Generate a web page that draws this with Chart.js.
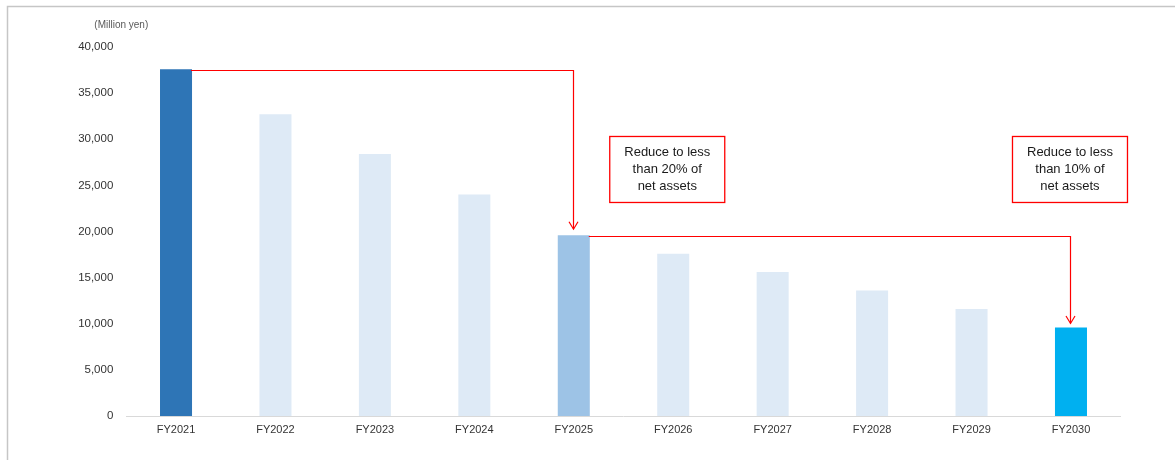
<!DOCTYPE html>
<html>
<head>
<meta charset="utf-8">
<title>Interest-bearing debt plan</title>
<script src="https://cdn.jsdelivr.net/npm/chart.js@4.4.1/dist/chart.umd.min.js"></script>
<style>
  html, body { margin: 0; padding: 0; background: #ffffff; }
  #wrap { width: 1175px; height: 460px; position: relative; }
</style>
</head>
<body>
<div id="wrap"><canvas id="chart" width="1175" height="460"></canvas></div>
<script>
// Fiscal years and balances (million yen)
const categories = ['FY2021', 'FY2022', 'FY2023', 'FY2024', 'FY2025', 'FY2026', 'FY2027', 'FY2028', 'FY2029', 'FY2030'];
const balances = [37600, 32700, 28400, 24000, 19600, 17600, 15600, 13600, 11600, 9600];
const barColors = ['#2E75B6', '#DEEAF6', '#DEEAF6', '#DEEAF6', '#9DC3E6', '#DEEAF6', '#DEEAF6', '#DEEAF6', '#DEEAF6', '#00B0F0'];
const unitLabel = '(Million yen)';

// Reduction steps: arrow from one bar to another
const arrowFrom = [0, 4];
const arrowTo = [4, 9];

// Target notes: text lines, category position of the box centre, value at box top
const noteTexts = [
  ['Reduce to less', 'than 20% of', 'net assets'],
  ['Reduce to less', 'than 10% of', 'net assets']
];
const noteAtCategory = [4.94, 8.99];
const noteTopValue = [30300, 30300];

const FONT = '"Liberation Sans", Arial, sans-serif';

const framePlugin = {
  id: 'frame',
  beforeDraw(chart) {
    const ctx = chart.ctx;
    ctx.save();
    ctx.strokeStyle = '#C6C6C6';
    ctx.lineWidth = 1.5;
    ctx.beginPath();
    ctx.moveTo(7.5, chart.height);
    ctx.lineTo(7.5, 6.5);
    ctx.lineTo(chart.width, 6.5);
    ctx.stroke();
    // unit label above the value axis
    const area = chart.chartArea;
    ctx.fillStyle = '#595959';
    ctx.font = '10px ' + FONT;
    ctx.textAlign = 'center';
    ctx.textBaseline = 'middle';
    ctx.fillText(unitLabel, area.left - 5, area.top - 22);
    ctx.restore();
  }
};

const arrowPlugin = {
  id: 'arrows',
  afterDatasetsDraw(chart) {
    const ctx = chart.ctx;
    const bars = chart.getDatasetMeta(0).data;
    const xs = chart.scales.x, ys = chart.scales.y;
    ctx.save();
    ctx.strokeStyle = '#FF0000';
    ctx.lineWidth = 1.2;
    arrowFrom.forEach((fi, k) => {
      const a = bars[fi], b = bars[arrowTo[k]];
      const sx = a.x + a.width / 2 - 1;
      const sy = Math.round(a.y) + 1.5;
      const ex = Math.round(b.x) - 0.5;
      const ey = b.y - (k === 0 ? 6 : 4);
      ctx.beginPath();
      ctx.moveTo(sx, sy);
      ctx.lineTo(ex, sy);
      ctx.lineTo(ex, ey);
      ctx.stroke();
      ctx.beginPath();
      ctx.moveTo(ex - 4.5, ey - 7.5);
      ctx.lineTo(ex, ey);
      ctx.lineTo(ex + 4.5, ey - 7.5);
      ctx.stroke();
    });
    // target note boxes
    noteTexts.forEach((lines, k) => {
      const cx = xs.getPixelForValue(noteAtCategory[k]);
      const top = ys.getPixelForValue(noteTopValue[k]);
      const w = 115, h = 66;
      ctx.fillStyle = '#FFFFFF';
      ctx.fillRect(cx - w / 2, top, w, h);
      ctx.strokeStyle = '#FF0000';
      ctx.lineWidth = 1.3;
      ctx.strokeRect(cx - w / 2, top, w, h);
      ctx.fillStyle = '#1A1A1A';
      ctx.font = '13px ' + FONT;
      ctx.textAlign = 'center';
      ctx.textBaseline = 'middle';
      lines.forEach((t, i) => {
        ctx.fillText(t, cx, top + h / 2 + (i - 1) * 16.7);
      });
    });
    ctx.restore();
  }
};

new Chart(document.getElementById('chart'), {
  type: 'bar',
  data: {
    labels: categories,
    datasets: [{
      data: balances,
      backgroundColor: barColors,
      borderWidth: 0,
      categoryPercentage: 1,
      barPercentage: 0.322
    }]
  },
  options: {
    responsive: false,
    animation: false,
    layout: { padding: { top: 47, right: 54.3, bottom: 0, left: 0 } },
    plugins: {
      legend: { display: false },
      tooltip: { enabled: false },
      title: { display: false }
    },
    scales: {
      x: {
        grid: { display: false, drawTicks: false },
        border: { display: true, color: '#D9D9D9', width: 1 },
        ticks: { color: '#333333', font: { family: FONT, size: 11 }, padding: 7, maxRotation: 0 },
        afterFit(scale) { scale.height = 44; }
      },
      y: {
        min: 0,
        max: 40000,
        grid: { display: false, drawTicks: false },
        border: { display: false },
        ticks: {
          stepSize: 5000,
          color: '#333333',
          font: { family: FONT, size: 11.5 },
          padding: 13,
          callback: v => v.toLocaleString('en-US')
        },
        afterFit(scale) { scale.width = 126.3; }
      }
    }
  },
  plugins: [framePlugin, arrowPlugin]
});
</script>
</body>
</html>
